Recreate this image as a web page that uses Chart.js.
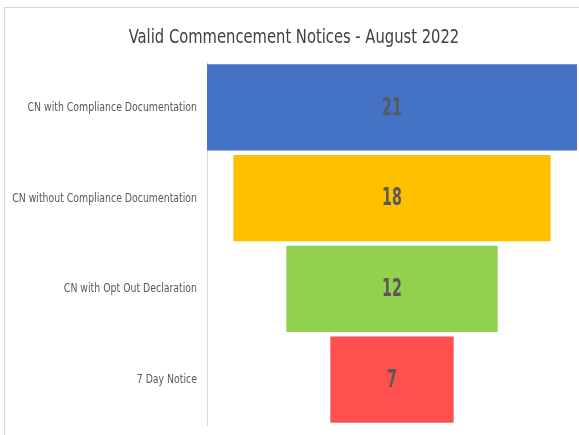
<!DOCTYPE html>
<html>
<head>
<meta charset="utf-8">
<script src="https://cdn.jsdelivr.net/npm/chart.js@4.4.0/dist/chart.umd.min.js"></script>
<style>
    html, body { margin: 0; padding: 0; background: #fff; overflow: hidden; }
    #frame {
        position: absolute; left: 4px; top: 7px;
        width: 580px; height: 430px;
        border: 1px solid #d9d9d9;
        background: #fff;
    }
    #funnelChart { display: block; }
</style>
</head>
<body>
<div id="frame">
    <canvas id="funnelChart" width="580" height="430"></canvas>
</div>
<script>
// Dữ liệu biểu đồ phễu
const categories = ['CN with Compliance Documentation', 'CN without Compliance Documentation', 'CN with Opt Out Declaration', '7 Day Notice'];
const counts = [21, 18, 12, 7];
const barColors = ['#4472c4', '#ffc000', '#92d050', '#ff5050'];
const chartTitle = 'Valid Commencement Notices - August 2022';

// Mỗi thanh được căn giữa quanh 0 để tạo hình phễu
const maxCount = Math.max(...counts);
const floatingBars = counts.map(v => [-v / 2, v / 2]);

const FONT = '"DejaVu Sans Condensed", "Liberation Sans Narrow", sans-serif';

// Vẽ chữ bị nén ngang (giống font Calibri)
function drawNarrowText(ctx, text, x, y, squeeze) {
    ctx.save();
    ctx.translate(x, y);
    ctx.scale(squeeze, 1);
    ctx.fillText(text, 0, 0);
    ctx.restore();
}

// Plugin vẽ tiêu đề, nhãn trục và số liệu
const narrowText = {
    id: 'narrowText',
    afterDraw(chart) {
        const ctx = chart.ctx;
        const yScale = chart.scales.y;
        ctx.save();

        // Tiêu đề
        ctx.font = '20px ' + FONT;
        ctx.fillStyle = '#404040';
        ctx.textAlign = 'center';
        ctx.textBaseline = 'middle';
        drawNarrowText(ctx, chartTitle, chart.width / 2 - 1, 30, 0.82);

        // Nhãn danh mục trên trục y
        ctx.font = '13px ' + FONT;
        ctx.fillStyle = '#595959';
        ctx.textAlign = 'right';
        chart.data.labels.forEach((label, i) => {
            drawNarrowText(ctx, label, yScale.right - 10, yScale.getPixelForTick(i), 0.8);
        });

        // Giá trị ở giữa mỗi thanh
        ctx.font = 'bold 24px ' + FONT;
        ctx.textAlign = 'center';
        chart.getDatasetMeta(0).data.forEach((bar, i) => {
            const p = bar.getCenterPoint();
            drawNarrowText(ctx, String(counts[i]), p.x, p.y + 1, 0.66);
        });
        ctx.restore();
    }
};

const funnelChart = new Chart(document.getElementById('funnelChart'), {
    type: 'bar',
    data: {
        labels: categories,
        datasets: [{
            data: floatingBars,
            backgroundColor: barColors,
            borderSkipped: false,
            barPercentage: 0.95,
            categoryPercentage: 1
        }]
    },
    options: {
        indexAxis: 'y',
        responsive: false,
        animation: false,
        layout: {
            padding: { top: 54, right: 8, bottom: 13, left: 0 }
        },
        plugins: {
            legend: { display: false },
            tooltip: { enabled: false },
            title: { display: false }
        },
        scales: {
            x: {
                display: false,
                min: -maxCount / 2,
                max: maxCount / 2
            },
            y: {
                afterFit: function(scale) {
                    scale.width = 202;
                },
                grid: { display: false, drawTicks: false },
                border: { display: true, color: '#d9d9d9', width: 1 },
                ticks: { display: false }
            }
        }
    },
    plugins: [narrowText]
});
</script>
</body>
</html>
